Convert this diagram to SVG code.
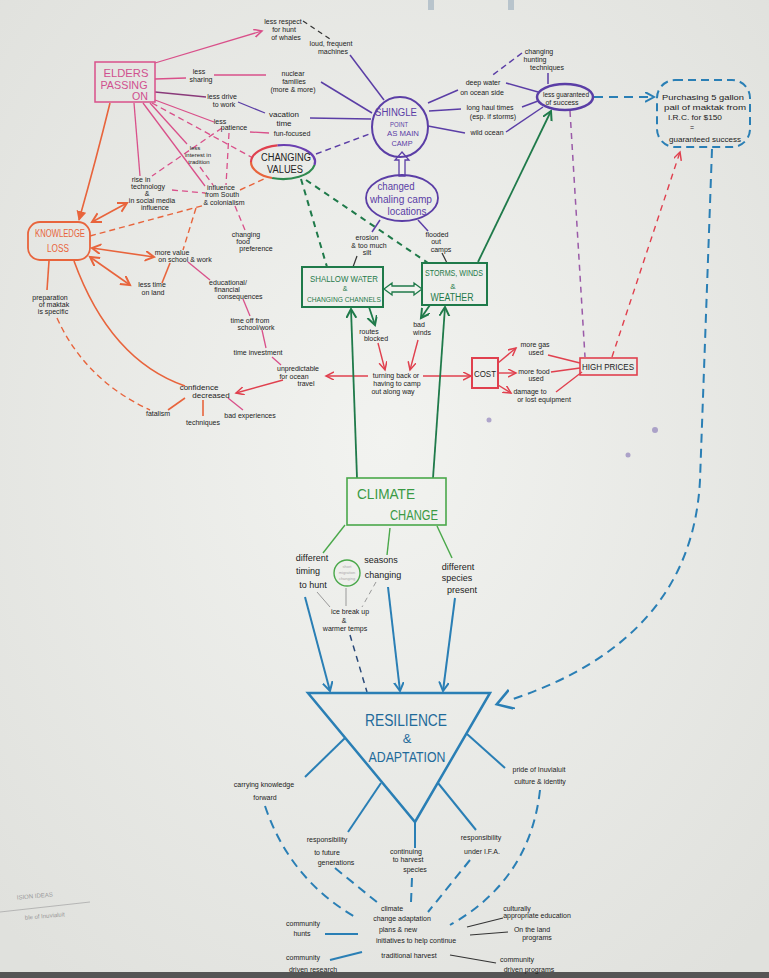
<svg xmlns="http://www.w3.org/2000/svg" width="769" height="978" viewBox="0 0 769 978">
<defs>
<radialGradient id="paper" cx="50%" cy="45%" r="70%">
<stop offset="0" stop-color="#f2f3f0"/><stop offset="1" stop-color="#e0e1dd"/>
</radialGradient>
<marker id="aPink" markerWidth="10" markerHeight="10" refX="8" refY="4" orient="auto-start-reverse" markerUnits="userSpaceOnUse"><path d="M0,0 L8,4 L0,8" fill="none" stroke="#d9508a" stroke-width="1.5"/></marker>
<marker id="aOr" markerWidth="12" markerHeight="12" refX="9" refY="5" orient="auto-start-reverse" markerUnits="userSpaceOnUse"><path d="M0,0 L9,5 L0,10" fill="none" stroke="#e8643c" stroke-width="2"/></marker>
<marker id="aOrF" markerWidth="12" markerHeight="12" refX="9" refY="5" orient="auto" markerUnits="userSpaceOnUse"><path d="M0,0 L10,5 L0,10 Z" fill="#e8643c"/></marker>
<marker id="aRed" markerWidth="10" markerHeight="10" refX="8" refY="4" orient="auto" markerUnits="userSpaceOnUse"><path d="M0,0 L8,4 L0,8" fill="none" stroke="#e0404e" stroke-width="1.5"/></marker>
<marker id="aGr" markerWidth="12" markerHeight="12" refX="9" refY="5" orient="auto" markerUnits="userSpaceOnUse"><path d="M0,0 L9,5 L0,10" fill="none" stroke="#1f7a4a" stroke-width="2"/></marker>
<marker id="aBl" markerWidth="12" markerHeight="12" refX="9" refY="5" orient="auto" markerUnits="userSpaceOnUse"><path d="M0,0 L9,5 L0,10" fill="none" stroke="#2a7fb5" stroke-width="2"/></marker>
<marker id="aBlBig" markerWidth="22" markerHeight="22" refX="2" refY="10" orient="auto" markerUnits="userSpaceOnUse"><path d="M0,0 L16,10 L0,20" fill="none" stroke="#2a7fb5" stroke-width="2.5"/></marker>
<marker id="aBlD" markerWidth="12" markerHeight="12" refX="9" refY="5" orient="auto" markerUnits="userSpaceOnUse"><path d="M0,0 L9,5 L0,10" fill="none" stroke="#2a7fb5" stroke-width="2"/></marker>
</defs>
<style>
text{font-family:"Liberation Sans Narrow","Liberation Sans",sans-serif;fill:#222;text-anchor:middle}
.s{font-size:7px}
.m{font-size:9px}
.pink{stroke:#d9508a;fill:none;stroke-width:1.3}
.pinkd{stroke:#d9508a;fill:none;stroke-width:1.3;stroke-dasharray:6 4}
.or{stroke:#e8643c;fill:none;stroke-width:1.6}
.ord{stroke:#e8643c;fill:none;stroke-width:1.4;stroke-dasharray:6 4}
.pur{stroke:#5b3ea6;fill:none;stroke-width:1.5}
.purd{stroke:#5b3ea6;fill:none;stroke-width:1.5;stroke-dasharray:6 4}
.red{stroke:#e0404e;fill:none;stroke-width:1.4}
.redd{stroke:#e0404e;fill:none;stroke-width:1.4;stroke-dasharray:6 5}
.gr{stroke:#1f7a4a;fill:none;stroke-width:1.8}
.grd{stroke:#1f7a4a;fill:none;stroke-width:2;stroke-dasharray:6 5}
.lg{stroke:#4aa84a;fill:none;stroke-width:1.4}
.bl{stroke:#2a7fb5;fill:none;stroke-width:2}
.bld{stroke:#2a7fb5;fill:none;stroke-width:2;stroke-dasharray:9 6}
.dk{stroke:#333;fill:none;stroke-width:1.2}
.dkd{stroke:#333;fill:none;stroke-width:1.2;stroke-dasharray:5 4}
.gy{stroke:#999;fill:none;stroke-width:1}
.pk{fill:#d0508f}
.ot{fill:#e8643c}
.pt{fill:#5b3ea6}
.gt{fill:#1f7a4a}
.lt{fill:#3a9a44}
.bt{fill:#1f6a9a}
</style>
<rect width="769" height="978" fill="url(#paper)"/>
<rect x="0" y="972" width="769" height="6" fill="#555"/>
<rect x="428" y="0" width="6" height="10" fill="#b8c4cc"/>
<rect x="508" y="0" width="6" height="10" fill="#b8c4cc"/>
<g opacity="0.55" fill="#7a68b0"><circle cx="489" cy="420" r="2.5"/><circle cx="655" cy="430" r="3"/><circle cx="628" cy="455" r="2.5"/></g>
<text x="35" y="898" style="font-size:6px;fill:#999" transform="rotate(-5 35 898)">ISION IDEAS</text>
<text x="45" y="918" style="font-size:6px;fill:#999" transform="rotate(-5 45 918)">ble of Inuvialuit</text>
<path d="M0,912 L90,902" stroke="#aaa" stroke-width="0.8"/>

<g id="connectors">
<path class="pink" d="M155,63 L262,31" marker-end="url(#aPink)"/>
<path class="pink" d="M155,79 L186,78"/>
<path class="pink" d="M214,75 L266,75"/>
<path d="M155,92 L206,97" stroke="#8a3a7a" stroke-width="1.3" fill="none"/>
<path d="M238,102 L265,113" stroke="#5b3ea6" stroke-width="1.3" fill="none"/>
<path class="pink" d="M155,100 L214,122"/>
<path class="pink" d="M250,132 L269,133"/>
<path class="pink" d="M134,103 L140,176"/>
<path class="pink" d="M143,103 L205,186" stroke-width="1"/>
<path class="pink" d="M150,103 L187,144"/>
<path class="pink" d="M188,262 L210,280"/>
<path class="pink" d="M243,299 L250,316"/>
<path class="pink" d="M262,330 L266,348"/>
<path class="pink" d="M272,357 L281,365"/>
<path class="pinkd" d="M152,103 L253,158"/>
<path class="pinkd" d="M222,128 L152,176"/>
<path class="pinkd" d="M229,133 L226,185" stroke-width="1"/>
<path class="pinkd" d="M200,167 L213,185"/>
<path class="pinkd" d="M172,190 L205,193"/>
<path class="pinkd" d="M235,206 L245,230"/>
<path class="dkd" d="M303,21 L330,39"/>
<path class="or" d="M110,103 Q96,160 79,220" marker-end="url(#aOrF)"/>
<path class="or" d="M92,222 L127,203" marker-start="url(#aOr)" marker-end="url(#aOr)"/>
<path class="or" d="M92,248 L154,257" marker-start="url(#aOr)" marker-end="url(#aOr)"/>
<path class="or" d="M90,257 L130,285" marker-start="url(#aOr)" marker-end="url(#aOr)"/>
<path class="or" d="M162,283 L170,263"/>
<path class="or" d="M49,261 L47,290"/>
<path class="or" d="M74,261 Q110,360 185,386"/>
<path class="ord" d="M57,318 Q85,380 150,410"/>
<path class="or" d="M185,398 L168,410" stroke-width="2.5"/>
<path class="or" d="M203,400 L203,416"/>
<path class="pink" d="M228,398 L243,410"/>
<path class="ord" d="M90,236 L205,205"/>
<path class="ord" d="M196,208 L183,250"/>
<path class="ord" d="M240,190 L268,177"/>
<path class="red" d="M368,376 L326,376" marker-end="url(#aRed)"/>
<path class="red" d="M283,380 L236,393" marker-end="url(#aRed)"/>
<path class="red" d="M378,343 L385,370" marker-end="url(#aRed)"/>
<path class="red" d="M418,340 L410,370" marker-end="url(#aRed)"/>
<path class="red" d="M423,376 L471,376" marker-end="url(#aRed)"/>
<path class="red" d="M498,363 L516,348" marker-end="url(#aRed)"/>
<path class="red" d="M498,373 L516,373" marker-end="url(#aRed)"/>
<path class="red" d="M498,385 L511,393" marker-end="url(#aRed)"/>
<path class="red" d="M548,355 L580,363"/>
<path class="red" d="M551,372 L580,368"/>
<path class="red" d="M556,392 L582,372"/>
<path class="redd" d="M612,357 L680,152" marker-end="url(#aRed)"/>
<path d="M570,111 L585,357" stroke="#9a5aa8" stroke-width="1.5" fill="none" stroke-dasharray="6 5"/>
<path class="purd" d="M316,154 L372,133"/>
<path class="purd" d="M522,53 L490,77"/>
<path class="pur" d="M384,100 L350,55"/>
<path class="pur" d="M372,113 L321,82"/>
<path class="pur" d="M371,119 L310,118"/>
<path class="pur" d="M428,103 L458,90"/>
<path class="pur" d="M429,111 L461,109"/>
<path class="pur" d="M428,126 L465,133"/>
<path class="pur" d="M506,83 L538,92"/>
<path class="pur" d="M522,107 L538,101"/>
<path class="pur" d="M506,132 L543,107"/>
<path class="pur" d="M548,73 L548,84"/>
<path class="pur" d="M380,220 L372,232"/>
<path class="pur" d="M418,220 L428,231"/>
<path class="bld" d="M594,97 L654,97" marker-end="url(#aBlD)"/>
<path class="dk" d="M357,256 L353,267"/>
<path class="dk" d="M442,253 L447,263"/>
<path class="gr" d="M369,307 L375,325" marker-end="url(#aGr)"/>
<path class="gr" d="M430,305 L421,318" marker-end="url(#aGr)"/>
<path class="gr" d="M478,262 L551,111" marker-end="url(#aGr)"/>
<path class="grd" d="M301,179 L327,267"/>
<path class="grd" d="M306,180 L428,263"/>
<path class="gr" d="M357,478 L351,309" marker-end="url(#aGr)"/>
<path class="gr" d="M433,478 L445,307" marker-end="url(#aGr)"/>
<path class="lg" d="M345,525 L323,553"/>
<path class="lg" d="M390,528 L387,555"/>
<path class="lg" d="M437,526 L452,558"/>
<path class="bl" d="M305,597 L330,691" marker-end="url(#aBl)"/>
<path class="bl" d="M388,587 L400,691" marker-end="url(#aBl)"/>
<path class="bl" d="M455,598 L443,691" marker-end="url(#aBl)"/>
<path d="M350,635 L367,692" stroke="#2a4a7a" stroke-width="1.5" stroke-dasharray="6 5" fill="none"/>
<path class="gy" d="M317,592 L330,607"/>
<path class="gy" d="M376,582 L362,607" stroke-dasharray="5 4"/>
<path class="gy" d="M346,588 L346,606"/>
<path class="bl" d="M345,738 L305,777"/>
<path class="bl" d="M467,734 L505,768"/>
<path class="bl" d="M381,783 L348,832"/>
<path class="bl" d="M438,783 L476,830"/>
<path class="bl" d="M415,822 L415,848"/>
<path class="bld" d="M712,149 L700,480 Q692,640 510,700" marker-end="url(#aBlBig)"/>
<path class="bld" d="M265,806 Q290,880 357,918"/>
<path class="bld" d="M335,868 L378,903"/>
<path class="bld" d="M412,878 L411,902"/>
<path class="bld" d="M470,860 L428,912"/>
<path class="bld" d="M540,790 Q530,880 450,925"/>
<path class="bl" d="M325,934 L358,934"/>
<path class="bl" d="M330,960 L362,952" stroke-width="2.5"/>
<path class="dk" d="M467,927 L503,918"/>
<path class="dk" d="M470,935 L508,932"/>
<path class="dk" d="M450,955 L496,963"/>
<polygon points="384,289 392,283 392,286 414,286 414,283 422,289 414,295 414,292 392,292 392,295" fill="#f1f2ee" stroke="#1f7a4a" stroke-width="1.3"/>
<polygon points="402,152 409,160 405,160 405,176 399,176 399,160 395,160" fill="#f1f2ee" stroke="#5b3ea6" stroke-width="1.3"/>
</g>

<g id="elders"><rect x="95" y="62" width="60" height="40" fill="none" stroke="#d9508a" stroke-width="1.5"/>
<text class="pk" x="126" y="77" style="font-size:11px" textLength="45" lengthAdjust="spacingAndGlyphs">ELDERS</text><text class="pk" x="124" y="89" style="font-size:11px" textLength="47" lengthAdjust="spacingAndGlyphs">PASSING</text><text class="pk" x="140" y="100" style="font-size:11px" textLength="16" lengthAdjust="spacingAndGlyphs">ON</text></g>
<g id="less-respect"><text class="s" x="283" y="24">less respect</text><text class="s" x="284" y="32">for hunt</text><text class="s" x="286" y="40">of whales</text></g>
<g id="loud-machines"><text class="s" x="331" y="46">loud, frequent</text><text class="s" x="333" y="54">machines</text></g>
<g id="less-sharing"><text class="s" x="199" y="74">less</text><text class="s" x="201" y="82">sharing</text></g>
<g id="nuclear"><text class="s" x="293" y="76">nuclear</text><text class="s" x="294" y="84">families</text><text class="s" x="293" y="92">(more &amp; more)</text></g>
<g id="less-drive"><text class="s" x="222" y="99">less drive</text><text class="s" x="224" y="107">to work</text></g>
<g id="vacation"><text x="284" y="117" style="font-size:8px">vacation</text><text x="284" y="126" style="font-size:8px">time</text></g>
<g id="fun"><text class="s" x="292" y="136">fun-focused</text></g>
<g id="less-patience"><text class="s" x="220" y="124">less</text><text class="s" x="234" y="130">patience</text></g>
<g id="less-interest"><text x="195" y="150" style="font-size:6px">less</text><text x="198" y="157" style="font-size:6px">interest in</text><text x="199" y="164" style="font-size:6px">tradition</text></g>
<g id="changing-values">
<path d="M277.4,145.3 A32,17 0 0 1 314.5,165" fill="none" stroke="#6a3fb0" stroke-width="2.2"/>
<path d="M314.5,165 A32,17 0 0 1 272.1,178" fill="none" stroke="#2f8a4f" stroke-width="2.2"/>
<path d="M272.1,178 A32,17 0 0 1 251,162" fill="none" stroke="#e8643c" stroke-width="2.2"/>
<path d="M251,162 A32,17 0 0 1 277.4,145.3" fill="none" stroke="#e0404e" stroke-width="2.2"/>
<text x="286" y="161" style="font-size:10px" textLength="50" lengthAdjust="spacingAndGlyphs">CHANGING</text><text x="285" y="173" style="font-size:10px" textLength="36" lengthAdjust="spacingAndGlyphs">VALUES</text></g>
<g id="rise-tech"><text class="s" x="141" y="182">rise in</text><text class="s" x="148" y="189">technology</text><text class="s" x="147" y="196">&amp;</text><text class="s" x="152" y="203">in social media</text><text class="s" x="155" y="210">influence</text></g>
<g id="influence"><text class="s" x="221" y="190">influence</text><text class="s" x="222" y="197">from South</text><text class="s" x="224" y="205">&amp; colonialism</text></g>
<g id="food"><text class="s" x="246" y="237">changing</text><text class="s" x="243" y="244">food</text><text class="s" x="256" y="251">preference</text></g>
<g id="knowledge-loss"><rect x="28" y="222" width="62" height="38" rx="12" fill="none" stroke="#e8643c" stroke-width="1.8"/>
<text class="ot" x="60" y="237" style="font-size:10px" textLength="50" lengthAdjust="spacingAndGlyphs">KNOWLEDGE</text><text class="ot" x="58" y="252" style="font-size:10px" textLength="22" lengthAdjust="spacingAndGlyphs">LOSS</text></g>
<g id="more-value"><text class="s" x="172" y="255">more value</text><text class="s" x="185" y="262">on school &amp; work</text></g>
<g id="less-time"><text class="s" x="152" y="287">less time</text><text class="s" x="153" y="295">on land</text></g>
<g id="educational"><text class="s" x="228" y="285">educational/</text><text class="s" x="227" y="292">financial</text><text class="s" x="240" y="299">consequences</text></g>
<g id="preparation"><text class="s" x="50" y="300">preparation</text><text class="s" x="54" y="307">of maktak</text><text class="s" x="53" y="314">is specific</text></g>
<g id="time-off"><text class="s" x="250" y="323">time off from</text><text class="s" x="256" y="330">school/work</text></g>
<g id="time-investment"><text class="s" x="258" y="355">time investment</text></g>
<g id="unpredictable"><text class="s" x="298" y="371">unpredictable</text><text class="s" x="294" y="379">for ocean</text><text class="s" x="306" y="386">travel</text></g>
<g id="confidence"><text x="199" y="390" style="font-size:8px">confidence</text><text x="211" y="398" style="font-size:8px">decreased</text></g>
<g id="fatalism"><text class="s" x="158" y="416">fatalism</text></g>
<g id="techniques"><text class="s" x="203" y="425">techniques</text></g>
<g id="bad-exp"><text class="s" x="250" y="418">bad experiences</text></g>
<g id="turning-back"><text class="s" x="396" y="378">turning back or</text><text class="s" x="397" y="386">having to camp</text><text class="s" x="393" y="394">out along way</text></g>
<g id="shingle"><ellipse cx="400" cy="127" rx="28" ry="30" fill="none" stroke="#5b3ea6" stroke-width="2"/>
<text class="pt" x="396" y="116" style="font-size:10px" textLength="42" lengthAdjust="spacingAndGlyphs">SHINGLE</text><text class="pt" x="399" y="127" style="font-size:8px" textLength="18" lengthAdjust="spacingAndGlyphs">POINT</text><text class="pt" x="403" y="136" style="font-size:8px" textLength="32" lengthAdjust="spacingAndGlyphs">AS MAIN</text><text class="pt" x="402" y="146" style="font-size:8px" textLength="21" lengthAdjust="spacingAndGlyphs">CAMP</text></g>
<g id="changed-whaling"><ellipse cx="402" cy="198" rx="36" ry="23" fill="none" stroke="#5b3ea6" stroke-width="1.8"/>
<text class="pt" x="396" y="190" style="font-size:10px" textLength="37" lengthAdjust="spacingAndGlyphs">changed</text><text class="pt" x="401" y="203" style="font-size:10px" textLength="62" lengthAdjust="spacingAndGlyphs">whaling camp</text><text class="pt" x="407" y="215" style="font-size:10px" textLength="39" lengthAdjust="spacingAndGlyphs">locations</text></g>
<g id="erosion"><text class="s" x="367" y="240">erosion</text><text class="s" x="369" y="248">&amp; too much</text><text class="s" x="367" y="255">silt</text></g>
<g id="flooded"><text class="s" x="437" y="237">flooded</text><text class="s" x="436" y="244">out</text><text class="s" x="441" y="252">camps</text></g>
<g id="shallow"><rect x="302" y="267" width="81" height="40" fill="none" stroke="#1f7a4a" stroke-width="2"/>
<text class="gt" x="344" y="282" style="font-size:8.5px" textLength="68" lengthAdjust="spacingAndGlyphs">SHALLOW WATER</text><text class="gt" x="345" y="291" style="font-size:7px">&amp;</text><text class="gt" x="344" y="302" style="font-size:8px" textLength="74" lengthAdjust="spacingAndGlyphs">CHANGING CHANNELS</text></g>
<g id="storms"><rect x="422" y="263" width="65" height="42" fill="none" stroke="#1f7a4a" stroke-width="2"/>
<text class="gt" x="454" y="276" style="font-size:8.5px" textLength="58" lengthAdjust="spacingAndGlyphs">STORMS, WINDS</text><text class="gt" x="453" y="289" style="font-size:8px">&amp;</text><text class="gt" x="452" y="301" style="font-size:10px" textLength="43" lengthAdjust="spacingAndGlyphs">WEATHER</text></g>
<g id="routes"><text class="s" x="369" y="334">routes</text><text class="s" x="376" y="341">blocked</text></g>
<g id="bad-winds"><text class="s" x="419" y="327">bad</text><text class="s" x="422" y="335">winds</text></g>
<g id="deep-water"><text class="s" x="483" y="85">deep water</text><text class="s" x="482" y="95">on ocean side</text></g>
<g id="long-haul"><text class="s" x="490" y="110">long haul times</text><text class="s" x="493" y="119">(esp. if storms)</text></g>
<g id="wild-ocean"><text class="s" x="487" y="135">wild ocean</text></g>
<g id="hunting-tech"><text class="s" x="539" y="54">changing</text><text class="s" x="535" y="62">hunting</text><text class="s" x="547" y="70">techniques</text></g>
<g id="less-guaranteed"><ellipse cx="565" cy="97" rx="28" ry="13" fill="none" stroke="#5b3ea6" stroke-width="2.5"/>
<text class="s" x="566" y="97" textLength="46" lengthAdjust="spacingAndGlyphs">less guaranteed</text><text class="s" x="562" y="105">of success</text></g>
<g id="purchasing"><rect x="657" y="80" width="93" height="67" rx="18" fill="none" stroke="#2a7fb5" stroke-width="2" stroke-dasharray="8 5"/>
<text x="703" y="100" style="font-size:8px" textLength="82" lengthAdjust="spacingAndGlyphs">Purchasing 5 gallon</text><text x="705" y="110" style="font-size:8px" textLength="82" lengthAdjust="spacingAndGlyphs">pail of maktak from</text><text x="695" y="120" style="font-size:8px" textLength="54" lengthAdjust="spacingAndGlyphs">I.R.C. for $150</text><text x="692" y="130" style="font-size:7px">=</text><text x="705" y="142" style="font-size:7px" textLength="72" lengthAdjust="spacingAndGlyphs">guaranteed success</text></g>
<g id="cost"><rect x="472" y="358" width="26" height="30" fill="none" stroke="#e0404e" stroke-width="2"/><text x="485" y="377" style="font-size:9px" textLength="22" lengthAdjust="spacingAndGlyphs">COST</text></g>
<g id="more-gas"><text class="s" x="535" y="347">more gas</text><text class="s" x="536" y="355">used</text></g>
<g id="more-food"><text class="s" x="534" y="374">more food</text><text class="s" x="536" y="381">used</text></g>
<g id="damage"><text class="s" x="530" y="394">damage to</text><text class="s" x="544" y="402">or lost equipment</text></g>
<g id="high-prices"><rect x="580" y="358" width="57" height="17" fill="none" stroke="#e0404e" stroke-width="1.6"/><text x="608" y="370" style="font-size:9px" textLength="52" lengthAdjust="spacingAndGlyphs">HIGH PRICES</text></g>
<g id="climate-change"><rect x="347" y="478" width="99" height="47" fill="none" stroke="#4aa84a" stroke-width="1.6"/>
<text class="lt" x="386" y="499" style="font-size:14px" textLength="58" lengthAdjust="spacingAndGlyphs">CLIMATE</text><text class="lt" x="414" y="520" style="font-size:14px" textLength="48" lengthAdjust="spacingAndGlyphs">CHANGE</text></g>
<g id="diff-timing"><text class="m" x="312" y="561">different</text><text class="m" x="308" y="574">timing</text><text class="m" x="313" y="588">to hunt</text></g>
<g id="migration"><circle cx="347" cy="573" r="13" fill="none" stroke="#4aa84a" stroke-width="1.4"/>
<text x="347" y="568" style="font-size:4px;fill:#aaa">short</text><text x="347" y="574" style="font-size:4px;fill:#aaa">migration</text><text x="347" y="580" style="font-size:4px;fill:#aaa">changing</text></g>
<g id="seasons"><text class="m" x="381" y="563">seasons</text><text class="m" x="383" y="578">changing</text></g>
<g id="species"><text class="m" x="458" y="570">different</text><text class="m" x="457" y="581">species</text><text class="m" x="462" y="593">present</text></g>
<g id="ice"><text class="s" x="350" y="614">ice break up</text><text class="s" x="344" y="623">&amp;</text><text class="s" x="345" y="631">warmer temps</text></g>
<g id="resilience"><polygon points="308,693 490,693 415,822" fill="none" stroke="#2a7fb5" stroke-width="2.5"/>
<text class="bt" x="406" y="726" style="font-size:16px" textLength="82" lengthAdjust="spacingAndGlyphs">RESILIENCE</text><text class="bt" x="407" y="743" style="font-size:13px">&amp;</text><text class="bt" x="407" y="762" style="font-size:15px" textLength="77" lengthAdjust="spacingAndGlyphs">ADAPTATION</text></g>
<g id="carrying"><text class="s" x="264" y="787">carrying knowledge</text><text class="s" x="265" y="800">forward</text></g>
<g id="pride"><text class="s" x="539" y="772">pride of Inuvialuit</text><text class="s" x="540" y="784">culture &amp; identity</text></g>
<g id="resp-future"><text class="s" x="327" y="842">responsibility</text><text class="s" x="327" y="855">to future</text><text class="s" x="336" y="865">generations</text></g>
<g id="continuing"><text class="s" x="406" y="854">continuing</text><text class="s" x="408" y="862">to harvest</text><text class="s" x="415" y="872">species</text></g>
<g id="resp-ifa"><text class="s" x="481" y="840">responsibility</text><text class="s" x="482" y="854">under I.F.A.</text></g>
<g id="adaptation-plans"><text class="s" x="392" y="911">climate</text><text class="s" x="402" y="921">change adaptation</text><text class="s" x="398" y="932">plans &amp; new</text><text class="s" x="416" y="943">initiatives to help continue</text><text class="s" x="409" y="958">traditional harvest</text></g>
<g id="community-hunts"><text class="s" x="303" y="926">community</text><text class="s" x="302" y="936">hunts</text></g>
<g id="community-research"><text class="s" x="303" y="960">community</text><text class="s" x="313" y="972">driven research</text></g>
<g id="culturally"><text class="s" x="517" y="911">culturally</text><text class="s" x="537" y="918">appropriate education</text></g>
<g id="on-land"><text class="s" x="532" y="932">On the land</text><text class="s" x="537" y="940">programs</text></g>
<g id="community-programs"><text class="s" x="517" y="962">community</text><text class="s" x="529" y="972">driven programs</text></g>
</svg>
